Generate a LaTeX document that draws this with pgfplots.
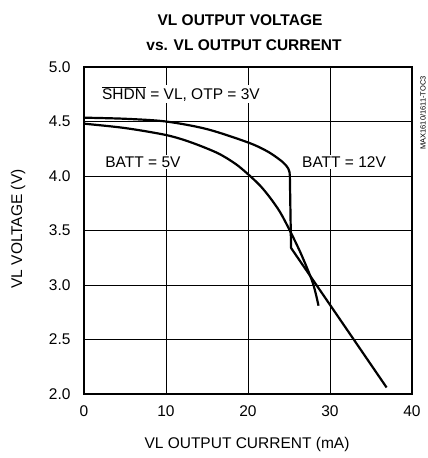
\documentclass[border=0pt]{standalone}
\usepackage{fontspec}
\setmainfont{Liberation Sans}
\usepackage{pgfplots}
\pgfplotsset{compat=1.18}
\begin{document}
\begin{tikzpicture}
\useasboundingbox (-84pt,-64pt) rectangle (344pt,394pt);
\begin{axis}[
  at={(0pt,0pt)}, anchor=south west,
  scale only axis, width=328pt, height=327pt,
  xmin=0, xmax=40, ymin=2, ymax=5,
  xtick={0,10,20,30,40},
  ytick={2.0,2.5,3.0,3.5,4.0,4.5,5.0},
  yticklabel={\pgfmathprintnumber[fixed,fixed zerofill,precision=1]{\tick}},
  grid=major,
  major grid style={black, line width=0.7pt},
  major tick length=0pt,
  axis line style={line width=2pt},
  tick label style={font=\fontsize{15.5}{17}\selectfont},
  /pgf/number format/assume math mode=true,
  xticklabel style={yshift=-8pt},
  yticklabel style={xshift=-10pt},
  clip=false,
]
% BATT = 5V
\addplot[black, line width=2.2pt, smooth] coordinates {
  (0,4.48) (5,4.44) (10,4.376) (13,4.31) (16.3,4.21) (18.5,4.11) (20.1,4.01)
  (21.5,3.91) (22.7,3.80) (23.9,3.67) (25.1,3.50) (26.5,3.28) (27.9,3.02) (28.6,2.81)
};
% BATT = 12V
\addplot[black, line width=2.2pt, smooth] coordinates {
  (0,4.535) (5,4.525) (10,4.50) (15,4.43) (20.1,4.305) (22.5,4.22) (24.2,4.13) (24.9,4.07) (25.1,4.02)
};
\addplot[black, line width=2.2pt, line join=round] coordinates {
  (25.1,4.02) (25.25,3.34) (36.9,2.06)
};
\node[fill=white, inner sep=1.5pt, anchor=west, font=\fontsize{15.5}{17}\selectfont] at (axis cs:2.0,4.75) {$\overline{\mbox{SHDN}}$ = VL, OTP = 3V};
\node[fill=white, inner sep=1.5pt, anchor=west, font=\fontsize{15.5}{17}\selectfont] at (axis cs:2.4,4.13) {BATT = 5V};
\node[fill=white, inner sep=1.5pt, anchor=west, font=\fontsize{15.5}{17}\selectfont] at (axis cs:26.4,4.13) {BATT = 12V};
\end{axis}
\node[font=\bfseries\fontsize{15.5}{17}\selectfont] at (156pt,374pt) {VL OUTPUT VOLTAGE};
\node[font=\bfseries\fontsize{15.5}{17}\selectfont] at (160pt,349pt) {vs. VL OUTPUT CURRENT};
\node[font=\fontsize{15.5}{17}\selectfont] at (163pt,-50pt) {VL OUTPUT CURRENT (mA)};
\node[font=\fontsize{15.5}{17}\selectfont, rotate=90] at (-66pt,165pt) {VL VOLTAGE (V)};
\node[font=\fontsize{7.5}{8}\selectfont, rotate=90] at (339pt,281pt) {MAX1610/1611-TOC3};
\end{tikzpicture}
\end{document}
